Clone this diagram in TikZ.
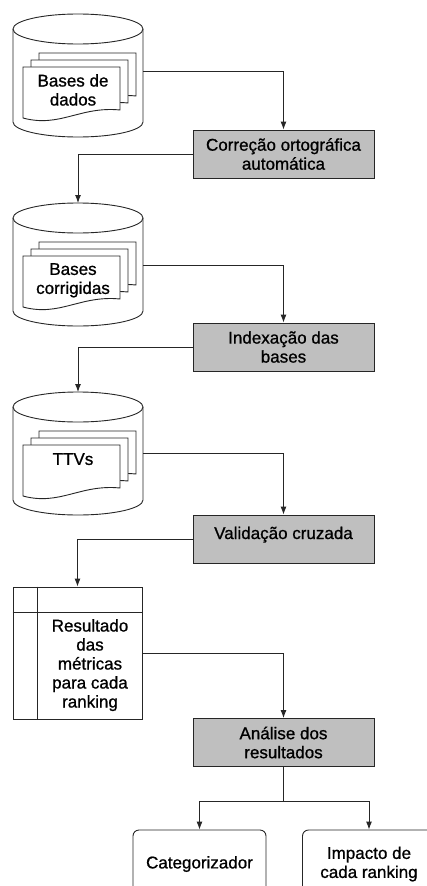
\documentclass[tikz,border=0pt]{standalone}
\usepackage{fontspec}
\setmainfont{Liberation Sans}
\newfontfamily\diagfont{Liberation Sans}[FakeBold=0.9]
\usetikzlibrary{
  calc,
  positioning,
  arrows.meta}

\begin{document}
\begin{tikzpicture}[
  x=1pt, y=-1pt,
  every node/.style={font=\diagfont\fontsize{17}{19}\selectfont\addfontfeature{FakeBold=0.9}, align=center},
  line/.style={draw=black!85, line width=0.9pt},
  arr/.style={line, -{Latex[length=8pt,width=6pt]}},
  process/.style={line, fill=gray!50, minimum width=181pt, minimum height=48pt, inner sep=0pt},
  doc/.style={line, fill=white},
  output/.style={line, rounded corners=6pt, minimum width=133pt, minimum height=68pt, inner sep=0pt}
]%
  \clip (0,0) rectangle (427,886);

  % Databases
  \foreach \ytop/\idx/\yout in {14/1/71, 203/2/265, 392/3/453} {
    \filldraw[line, fill=white]
      (13,\ytop+15) -- (13,\ytop+108)
      arc [start angle=180, end angle=0, x radius=65, y radius=15]
      -- (143,\ytop+15)
      arc [start angle=0, end angle=-180, x radius=65, y radius=15] -- cycle;
    \draw[line] (13,\ytop+15) arc [start angle=180, end angle=0, x radius=65, y radius=15];
    % stacked documents
    \foreach \dx/\dy in {16/-14, 8/-7, 0/0} {
      \filldraw[doc, shift={(\dx,\dy)}]
        (23,\ytop+53) -- (120,\ytop+53) -- (120,\ytop+96)
        .. controls (80,\ytop+92) and (60,\ytop+114) .. (23,\ytop+104) -- cycle;
    }
    \coordinate (dbtop\idx) at (78,\ytop);
    \coordinate (dbout\idx) at (143,\yout);
  }
  \node[anchor=north, inner sep=0pt] (dbtext1) at (73,74) {Bases de\\dados};
  \node[anchor=north, inner sep=0pt] (dbtext2) at (73,263) {Bases\\corrigidas};
  \node[anchor=north, inner sep=0pt] (dbtext3) at (73,453) {TTVs};

  % Processes
  \node[process] (spell) at (283.5,154) {Correção ortográfica\\automática};
  \node[process] (index) at (283.5,347) {Indexação das\\bases};
  \node[process] (cross) at (283.5,539) {\raisebox{0pt}[13pt][13pt]{Validação cruzada}};
  \node[process] (analysis) at (283.5,742.5) {Análise dos\\resultados};

  % Results table
  \node[line, minimum width=129pt, minimum height=132pt, inner sep=0pt] (res) at (77.5,653) {};
  \draw[line] ($(res.north west)+(25,0)$) -- ($(res.south west)+(25,0)$);
  \draw[line] ($(res.north west)+(0,26)$) -- ($(res.north east)+(0,26)$);
  \node[anchor=north, inner sep=0pt] (restext) at (90,619) {Resultado\\das\\métricas\\para cada\\ranking};

  % Outputs
  \node[output] (cat) at (199.5,864) {Categorizador};
  \node[output] (impact) at (369,864) {Impacto de\\cada ranking};

  % Connectors
  \draw[arr] (dbout1) -| (spell.north);
  \draw[arr] (spell.west) -| (dbtop2);
  \draw[arr] (dbout2) -| (index.north);
  \draw[arr] (index.west) -| (dbtop3);
  \draw[arr] (dbout3) -| (cross.north);
  \draw[arr] (cross.west) -| (res.north);
  \draw[arr] (res.east) -| (analysis.north);
  \draw[line] (analysis.south) -- ++(0,34) coordinate (split);
  \draw[arr] (split) -| (cat.north);
  \draw[arr] (split) -| (impact.north);
\end{tikzpicture}
\end{document}
